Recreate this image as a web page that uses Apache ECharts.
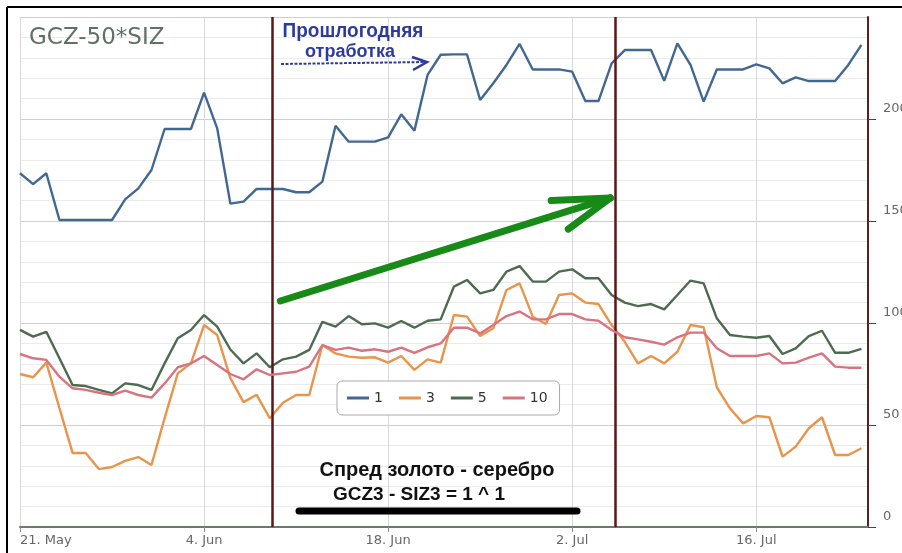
<!DOCTYPE html>
<html><head><meta charset="utf-8">
<script src="https://cdn.jsdelivr.net/npm/echarts@6/dist/echarts.min.js"></script>
<style>html,body{margin:0;padding:0;background:#fff}#c{width:902px;height:553px}</style>
</head><body><div id="c"></div>
<script>
// x axis: day offset from 21 May (daily points)
const xTickLabels = ['21. May', '4. Jun', '18. Jun', '2. Jul', '16. Jul'];
const seriesNames = ['1', '3', '5', '10'];

const s1 = [173.4,168.1,173.4,150.5,150.5,150.5,150.5,150.5,160.6,166.0,175.0,195.1,195.1,195.1,212.9,195.4,
  158.5,159.5,165.7,165.7,165.7,164.1,164.1,169.3,196.7,188.9,188.9,188.9,191.0,202.3,194.3,221.6,
  231.5,231.7,231.7,209.3,217.5,226.5,236.8,224.3,224.3,224.3,223.2,208.8,208.8,227.3,233.8,233.8,
  233.8,218.7,237.1,226.5,208.5,224.3,224.3,224.3,226.8,224.8,217.5,220.4,218.6,218.6,218.6,226.5,236.3];
const s3 = [75.0,73.4,80.6,58.3,36.3,36.3,28.4,29.4,32.4,34.3,30.4,53.4,75.3,80.2,99.0,94.1,
  73.0,61.2,64.8,53.3,60.9,64.7,64.7,89.2,85.1,83.5,83.0,83.2,80.6,83.8,77.0,82.2,
  80.6,103.9,103.1,93.6,97.4,116.2,119.4,103.1,99.5,113.7,114.5,110.0,109.3,99.0,90.8,80.2,
  83.8,80.2,85.9,99.0,97.9,68.5,58.2,50.8,54.4,53.8,34.5,39.4,48.4,53.8,35.3,35.3,38.6];
const s5 = [96.6,93.3,95.7,82.7,69.6,69.1,67.2,65.5,70.4,69.6,67.2,80.2,92.5,96.6,103.9,98.2,
  87.0,80.2,85.1,78.3,82.2,83.5,86.8,100.6,98.2,103.4,99.4,99.8,97.7,101.0,97.7,101.1,
  101.8,117.8,121.1,114.5,116.2,125.2,127.9,120.3,120.3,125.2,126.3,121.9,121.9,113.7,110.0,108.3,
  109.3,106.7,113.7,120.8,119.4,102.3,94.1,93.3,92.8,93.6,84.8,87.6,93.6,96.2,85.4,85.4,87.3];
const s10 = [84.8,82.7,81.9,73.7,68.0,67.2,65.8,64.7,66.8,64.7,63.4,70.4,78.3,80.2,83.8,79.4,
  75.0,72.4,77.3,74.5,75.3,76.1,78.6,89.2,86.8,87.9,86.4,87.1,85.9,87.9,85.4,88.1,
  90.0,97.7,97.7,94.9,99.0,103.4,105.6,101.8,101.8,104.4,104.4,101.8,101.1,96.6,93.0,92.0,
  90.8,89.4,93.0,95.3,95.3,87.6,83.8,83.8,83.8,85.1,80.2,80.6,83.0,85.1,78.6,78.1,78.1];

const seriesData = [s1, s3, s5, s10];
const colors = ['#426891', '#e8944c', '#4c6b50', '#d9737f'];

const chart = echarts.init(document.getElementById('c'), null, {renderer: 'canvas'});

const maroon = {color: '#5c1616', width: 2.5, type: 'solid'};
const green = {color: '#178a17', width: 7, type: 'solid', cap: 'round'};

const option = {
  animation: false,
  backgroundColor: '#ffffff',
  grid: {left: 20, right: 34, top: 17, bottom: 26, containLabel: false, outerBoundsMode: 'none'},
  legend: {
    data: seriesNames,
    left: 337, top: 381,
    icon: 'rect',
    itemWidth: 22, itemHeight: 3, itemGap: 16,
    padding: [10, 12, 10, 10],
    borderColor: '#aaaaaa', borderWidth: 1, borderRadius: 5,
    backgroundColor: '#ffffff',
    textStyle: {color: '#333', fontSize: 14, fontFamily: 'DejaVu Sans'}
  },
  xAxis: {
    type: 'value', min: 0, max: 64.5, interval: 14,
    axisLine: {show: true, onZero: false, lineStyle: {color: '#6b7a6b', width: 2}},
    axisTick: {show: true, length: 5, lineStyle: {color: '#8a8a8a'}},
    splitLine: {show: true, lineStyle: {color: '#d9d9d9', width: 1}},
    axisLabel: {
      color: '#666', fontSize: 13, fontFamily: 'DejaVu Sans', margin: 7,
      alignMinLabel: 'left', showMaxLabel: false,
      formatter: v => (Math.abs(v / 14 - Math.round(v / 14)) < 1e-6 ? xTickLabels[Math.round(v / 14)] || '' : '')
    }
  },
  yAxis: {
    type: 'value', position: 'right', min: 0, max: 250, interval: 50,
    axisLine: {show: true, onZero: false, lineStyle: {color: '#5c1f1f', width: 2}},
    axisTick: {show: true, length: 8, lineStyle: {color: '#5a3a3a'}},
    axisLabel: {color: '#666', fontSize: 13, fontFamily: 'DejaVu Sans', margin: 15, showMaxLabel: false,
      align: 'left', verticalAlign: 'bottom', lineHeight: 20},
    splitLine: {show: true, lineStyle: {color: '#cfcfcf', width: 1}},
    minorTick: {show: false, splitNumber: 5},
    minorSplitLine: {show: true, lineStyle: {color: '#ebebeb', width: 1}}
  },
  series: seriesNames.map((n, k) => ({
    name: n, type: 'line', symbol: 'none', showSymbol: false,
    data: seriesData[k].map((v, i) => [i, v]),
    lineStyle: {color: colors[k], width: 2.4},
    itemStyle: {color: colors[k]},
    z: 2 + k
  })).concat([{
    name: 'annot', type: 'line', data: [], z: 10,
    markLine: {
      silent: true, symbol: ['none', 'none'], animation: false,
      label: {show: false},
      data: [
        {xAxis: 19.2, lineStyle: maroon},
        {xAxis: 45.3, lineStyle: maroon},
        [{coord: [19.8, 110.8], lineStyle: green}, {coord: [44.9, 161.3]}],
        [{coord: [40.4, 160.0], lineStyle: green}, {coord: [44.9, 161.3]}],
        [{coord: [41.7, 146.0], lineStyle: green}, {coord: [44.9, 161.3]}]
      ]
    }
  }]),
  graphic: [
    {type: 'line', shape: {x1: 7, y1: 7, x2: 902, y2: 7}, style: {stroke: '#000', lineWidth: 2}, z: 100},
    {type: 'line', shape: {x1: 7, y1: 7, x2: 7, y2: 553}, style: {stroke: '#000', lineWidth: 2}, z: 100},
    {type: 'text', x: 29, y: 38, z: 100,
      style: {text: 'GCZ-50*SIZ', fill: '#5f7166', font: '23px "DejaVu Sans"', verticalAlign: 'middle', align: 'left'}},
    {type: 'text', x: 353, y: 35, z: 100, scaleY: 1.1, originY: 35,
      style: {text: 'Прошлогодняя', fill: '#2e3b9e', font: 'bold 19px "Liberation Sans"', verticalAlign: 'middle', align: 'center'}},
    {type: 'text', x: 350, y: 52, z: 100,
      style: {text: 'отработка', fill: '#2e3b9e', font: 'bold 18px "Liberation Sans"', verticalAlign: 'middle', align: 'center'}},
    {type: 'line', shape: {x1: 281, y1: 64, x2: 425, y2: 62}, z: 100,
      style: {stroke: '#2d3c9a', lineWidth: 2, lineDash: [3, 1.5]}},
    {type: 'polyline', shape: {points: [[412, 57], [427, 62], [413, 70]]}, z: 100,
      style: {stroke: '#2d3c9a', lineWidth: 2.5, fill: null}},
    {type: 'text', x: 437, y: 470, z: 100,
      style: {text: 'Спред золото - серебро', fill: '#111', font: 'bold 20px "Liberation Sans"', verticalAlign: 'middle', align: 'center'}},
    {type: 'text', x: 419, y: 495, z: 100,
      style: {text: 'GCZ3 - SIZ3 = 1 ^ 1', fill: '#111', font: 'bold 19px "Liberation Sans"', verticalAlign: 'middle', align: 'center'}},
    {type: 'line', shape: {x1: 299, y1: 511, x2: 577, y2: 511}, z: 100,
      style: {stroke: '#000', lineWidth: 7, lineCap: 'round'}}
  ]
};
chart.setOption(option);
</script>
</body></html>
